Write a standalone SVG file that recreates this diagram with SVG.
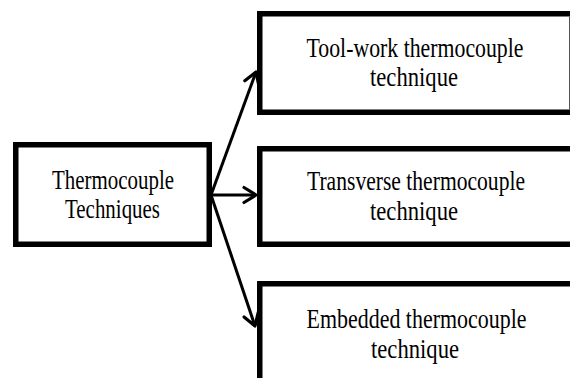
<svg xmlns="http://www.w3.org/2000/svg" width="570" height="378" viewBox="0 0 570 378">
  <style>
    .box { fill: #ffffff; stroke: #000000; stroke-width: 5.5; stroke-linejoin: miter; }
    .edgeline { fill: none; stroke: #555555; stroke-width: 1; }
    .lbl { font-family: "Liberation Serif", "Times New Roman", serif; font-size: 24px; fill: #000000; text-anchor: middle; }
    .edge { fill: none; stroke: #000000; stroke-width: 3; }
  </style>
  <defs>
    <marker id="arrow" markerUnits="userSpaceOnUse" markerWidth="18" markerHeight="18" refX="13" refY="8" orient="auto" overflow="visible">
      <path d="M1,0.5 L13,8 L1,15.5" fill="none" stroke="#000000" stroke-width="3.2" stroke-linecap="round" stroke-linejoin="round"/>
    </marker>
  </defs>
  <rect width="570" height="378" fill="#ffffff"/>

  <g id="connectors">
    <line class="edge" x1="211" y1="195" x2="256" y2="72" marker-end="url(#arrow)"/>
    <line class="edge" x1="211" y1="195" x2="256" y2="195" marker-end="url(#arrow)"/>
    <line class="edge" x1="211" y1="195" x2="255" y2="326" marker-end="url(#arrow)"/>
  </g>

  <g id="node-root">
    <rect class="box" x="15.75" y="144.75" width="193.5" height="99.5"/>
    <text class="lbl" transform="translate(113,189) scale(1,1.12)" textLength="122" lengthAdjust="spacingAndGlyphs">Thermocouple</text>
    <text class="lbl" transform="translate(112.5,218) scale(1,1.12)" textLength="95" lengthAdjust="spacingAndGlyphs">Techniques</text>
  </g>

  <g id="node-toolwork">
    <path class="box" d="M570,13.75 H259.75 V112.25 H570"/>
    <line class="edgeline" x1="569.5" y1="16.5" x2="569.5" y2="109.5"/>
    <text class="lbl" transform="translate(415,57) scale(1,1.12)" textLength="217" lengthAdjust="spacingAndGlyphs">Tool-work thermocouple</text>
    <text class="lbl" transform="translate(414,86) scale(1,1.12)" textLength="88" lengthAdjust="spacingAndGlyphs">technique</text>
  </g>

  <g id="node-transverse">
    <path class="box" d="M570,148.75 H259.75 V244.25 H570"/>
    <text class="lbl" transform="translate(416,190) scale(1,1.12)" textLength="218" lengthAdjust="spacingAndGlyphs">Transverse thermocouple</text>
    <text class="lbl" transform="translate(414,220) scale(1,1.12)" textLength="88" lengthAdjust="spacingAndGlyphs">technique</text>
  </g>

  <g id="node-embedded">
    <path class="box" d="M570,283.75 H259.75 V378"/>
    <text class="lbl" transform="translate(416.5,328) scale(1,1.12)" textLength="220" lengthAdjust="spacingAndGlyphs">Embedded thermocouple</text>
    <text class="lbl" transform="translate(415,358) scale(1,1.12)" textLength="88" lengthAdjust="spacingAndGlyphs">technique</text>
  </g>
</svg>
